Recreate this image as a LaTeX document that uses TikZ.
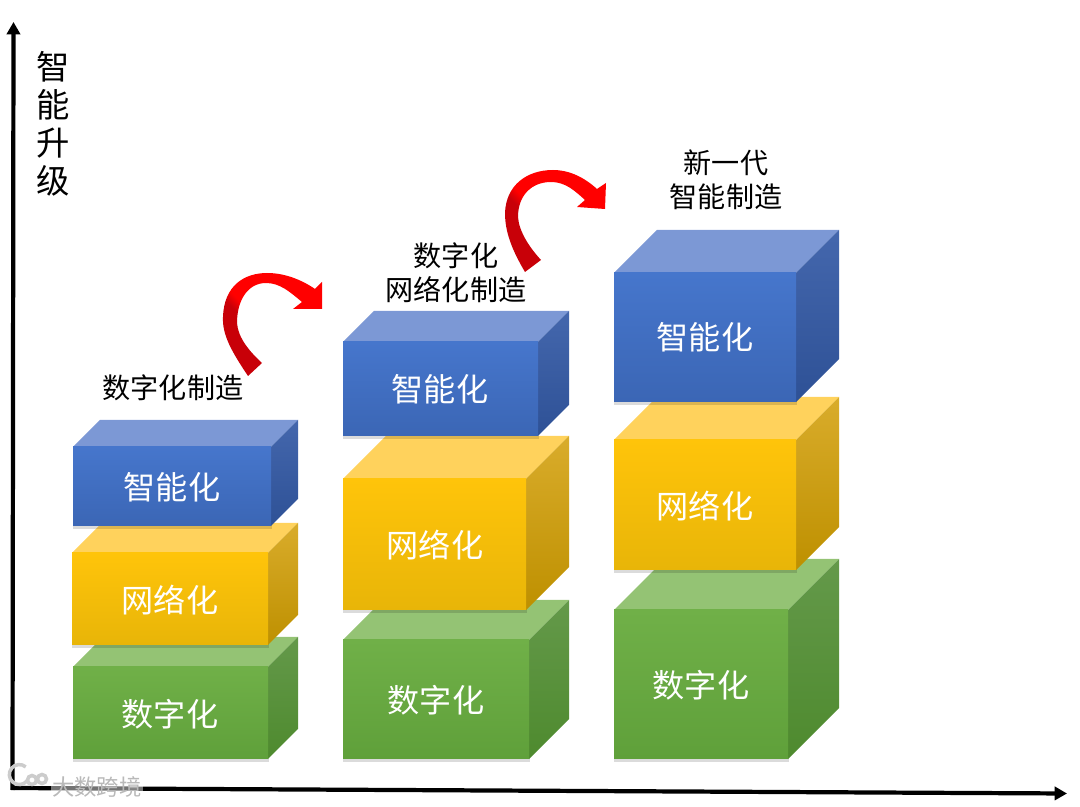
\documentclass[tikz,border=0pt]{standalone}
\usepackage{fontspec}
\usepackage{xcolor}
\usepackage{tikz}
\usetikzlibrary{arrows.meta}
\setmainfont{Noto Sans CJK SC}
\definecolor{bluetop}{HTML}{7C98D5}
\definecolor{bluehi}{HTML}{4676CC}
\definecolor{bluelo}{HTML}{3B66B5}
\definecolor{bluesidehi}{HTML}{4467AD}
\definecolor{bluesidelo}{HTML}{2E5196}
\definecolor{yellowtop}{HTML}{FFD25C}
\definecolor{yellowhi}{HTML}{FFC40A}
\definecolor{yellowlo}{HTML}{E8B508}
\definecolor{yellowsidehi}{HTML}{D9AC2B}
\definecolor{yellowsidelo}{HTML}{BE9000}
\definecolor{greentop}{HTML}{94C374}
\definecolor{greenhi}{HTML}{70B048}
\definecolor{greenlo}{HTML}{5FA03A}
\definecolor{greensidehi}{HTML}{64994A}
\definecolor{greensidelo}{HTML}{4E8A2E}
\definecolor{arrowhi}{HTML}{FF0000}
\definecolor{arrowlo}{HTML}{C80008}
\pgfdeclareverticalshading{turnshade}{100bp}{color(0bp)=(arrowlo); color(42bp)=(arrowlo); color(47bp)=(arrowhi); color(100bp)=(arrowhi)}
\tikzset{
  boxtext/.style={text=white, font=\fontsize{18.3pt}{22pt}\selectfont, inner sep=0pt},
  stagetext/.style={text=black, align=center, font=\fontsize{16pt}{19.4pt}\selectfont, inner sep=0pt},
  axistext/.style={text=black, align=center, font=\fontsize{19pt}{21.6pt}\selectfont, inner sep=0pt},
  axisline/.style={-{Triangle[length=7pt,width=7.5pt]}, line width=2.4pt, black},
  turnarrow/.style={shading=turnshade, shading angle=-45},
  boxshadow/.style={fill=black, opacity=0.14},
  marktext/.style={text=gray!55, fill=white, fill opacity=0.45, text opacity=1, font=\fontsize{12.7pt}{15pt}\selectfont, inner sep=1pt},
  markline/.style={draw=gray!40, line width=2pt}
}
% #1 colour, #2 left, #3 top, #4 right, #5 bottom, #6 depth
\newcommand{\cuboid}[6]{
  \fill[boxshadow] (#2,#3+2) rectangle (#4+1,#5+3);
  \fill[#1top] (#2,#3) -- (#2+#6,#3-#6) -- (#4+#6,#3-#6) -- (#4,#3) -- cycle;
  \shade[top color=#1sidehi, bottom color=#1sidelo] (#4,#3) -- (#4+#6,#3-#6) -- (#4+#6,#5-#6) -- (#4,#5) -- cycle;
  \shade[top color=#1hi, bottom color=#1lo] (#2,#3) rectangle (#4,#5);
}

\begin{document}
\begin{tikzpicture}[x=0.02cm,y=-0.02cm]
  \useasboundingbox (0,0) rectangle (1080,807);

  % axes
  \coordinate (yfoot) at (12.5,790);
  \coordinate (ytip) at (13.5,22);
  \coordinate (xfoot) at (11,788);
  \coordinate (xtip) at (1067,793.5);
  \draw[axisline] (yfoot) -- (ytip);
  \draw[axisline] (xfoot) -- (xtip);
  \node[axistext] (axislabel) at (53.5,123.5) {智\\能\\升\\级};

  % first column
  \cuboid{green}{73}{667}{268}{759}{30}
  \cuboid{yellow}{72}{553}{268}{645}{30}
  \cuboid{blue}{73}{447}{271}{526}{27}
  \node[boxtext] (digitalA) at (170,714) {数字化};
  \node[boxtext] (networkA) at (170,600) {网络化};
  \node[boxtext] (smartA) at (172,487) {智能化};
  \node[stagetext] (stageA) at (173,388) {数字化制造};

  % second column
  \cuboid{green}{343}{640}{529}{759}{40}
  \cuboid{yellow}{343}{479}{526}{610}{43}
  \cuboid{blue}{343}{342}{538}{436}{31}
  \node[boxtext] (digitalB) at (436,700) {数字化};
  \node[boxtext] (networkB) at (435,545) {网络化};
  \node[boxtext] (smartB) at (440,389) {智能化};
  \node[stagetext] (stageB) at (456,273) {数字化\\网络化制造};

  % third column
  \cuboid{green}{614}{610}{788}{759}{51}
  \cuboid{yellow}{614}{440}{796}{570}{43}
  \cuboid{blue}{614}{273}{796}{402}{43}
  \node[boxtext] (digitalC) at (701,685) {数字化};
  \node[boxtext] (networkC) at (705,506) {网络化};
  \node[boxtext] (smartC) at (705,337) {智能化};
  \node[stagetext] (stageC) at (726,180) {新一代\\智能制造};

  % turn arrows
  \shade[turnarrow] (248,376) .. controls (232,352) and (222,335) .. (223,317)
    .. controls (224,285) and (245,273) .. (267,273)
    .. controls (285,273) and (302,280) .. (315,289)
    -- (322,282) -- (322,309) -- (293,309) -- (302,302)
    .. controls (290,292) and (280,283) .. (266,283)
    .. controls (248,283) and (237,300) .. (237,323)
    .. controls (238,338) and (250,352) .. (262,363) -- cycle;
  \shade[turnarrow] (525,272) .. controls (512,250) and (505,232) .. (505,213)
    .. controls (506,185) and (527,170) .. (553,170)
    .. controls (570,170) and (585,178) .. (597,189)
    -- (606,183) -- (605,209) -- (577,207) -- (585,200)
    .. controls (574,190) and (565,182) .. (551,182)
    .. controls (532,182) and (518,195) .. (518,217)
    .. controls (519,232) and (530,248) .. (541,260) -- cycle;

  % watermark
  \draw[markline] (27,781) arc[start angle=40, end angle=310, radius=10];
  \draw[markline] (32,780) circle[radius=4.5];
  \draw[markline] (42,779) circle[radius=4.5];
  \node[marktext] (mark) at (97,787) {大数跨境};
\end{tikzpicture}
\end{document}
